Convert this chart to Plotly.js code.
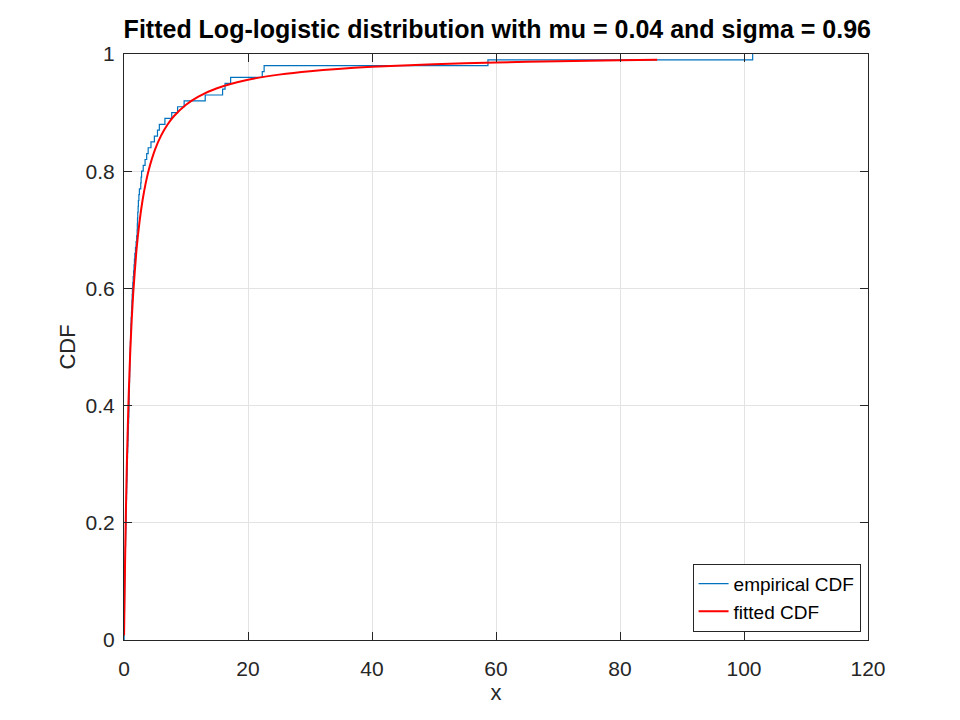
<!DOCTYPE html>
<html>
<head>
<meta charset="utf-8">
<script src="https://cdn.plot.ly/plotly-3.0.1.min.js"></script>
<style>html,body{margin:0;padding:0;background:#fff;}#chart{width:960px;height:720px;}</style>
</head>
<body>
<div id="chart"></div>
<script>
// Sorted sample values (empirical CDF jumps)
const sampleX = [
  0.02, 0.03, 0.05, 0.06, 0.07, 0.08, 0.09, 0.10, 0.11, 0.12,
  0.14, 0.15, 0.17, 0.19, 0.21, 0.23, 0.25, 0.27, 0.29, 0.31,
  0.33, 0.35, 0.37, 0.39, 0.41, 0.43, 0.45, 0.48, 0.50, 0.52,
  0.55, 0.57, 0.60, 0.63, 0.66, 0.69, 0.72, 0.75, 0.78, 0.80,
  0.82, 0.84, 0.86, 0.88, 0.90, 0.92, 0.94, 0.96, 0.98, 1.00,
  1.03, 1.06, 1.09, 1.12, 1.16, 1.20, 1.24, 1.28, 1.32, 1.36,
  1.42, 1.48, 1.55, 1.62, 1.68, 1.75, 1.85, 1.95, 2.05, 2.12,
  2.15, 2.18, 2.22, 2.28, 2.32, 2.40, 2.48, 2.70, 2.76, 2.84,
  3.10, 3.40, 3.66, 3.90, 4.35, 4.90, 5.40, 5.70, 6.60, 7.70,
  8.65, 9.70, 13.1, 15.9, 16.3, 17.2, 22.3, 22.6, 58.7, 101.4
];
// Empirical CDF levels after each jump
const empiricalY = sampleX.map((_, i) => (i + 1) / sampleX.length);

// Fitted CDF points
const fitX = [0.01, 0.02, 0.05, 0.1, 0.2, 0.3, 0.4, 0.5, 0.75, 1, 1.25, 1.5, 2, 2.5, 3, 3.5, 4, 5, 6, 7, 8, 10, 12, 15, 20, 25, 30, 40, 50, 60, 70, 80, 86];
const fitY = [0.0079, 0.0160, 0.0407, 0.0801, 0.152, 0.215, 0.2697, 0.318, 0.4155, 0.4896, 0.5476, 0.594, 0.664, 0.7136, 0.7508, 0.7796, 0.8026, 0.8368, 0.8612, 0.8793, 0.8933, 0.9135, 0.9274, 0.9415, 0.9560, 0.9648, 0.9707, 0.9781, 0.9826, 0.9856, 0.9877, 0.9893, 0.9900];

const xTicks = [0, 20, 40, 60, 80, 100, 120];
const yTicks = [0, 0.2, 0.4, 0.6, 0.8, 1];
const yTickText = ['0', '0.2', '0.4', '0.6', '0.8', '1'];

// step line: start at first sample with 0
const ecdfX = [sampleX[0]].concat(sampleX);
const ecdfY = [0].concat(empiricalY);

const font = 'Liberation Sans, Arial, Helvetica, sans-serif';
const axisCommon = {
  showline: true, linecolor: '#262626', linewidth: 1, mirror: 'ticks',
  ticks: 'inside', ticklen: 8, tickcolor: '#262626', tickwidth: 1,
  showgrid: true, gridcolor: '#e3e3e3', gridwidth: 1,
  zeroline: false, tickfont: {family: font, size: 21, color: '#262626'}
};

Plotly.newPlot('chart', [
  {x: ecdfX, y: ecdfY, type: 'scatter', mode: 'lines', line: {shape: 'hv', color: '#0072BD', width: 1.2}, name: 'empirical CDF'},
  {x: fitX, y: fitY, type: 'scatter', mode: 'lines', line: {shape: 'spline', smoothing: 0.6, color: '#FF0000', width: 2}, name: 'fitted CDF'}
], {
  width: 960, height: 720,
  margin: {l: 124, r: 92, t: 54, b: 80},
  paper_bgcolor: '#fff', plot_bgcolor: '#fff',
  title: {text: '<b>Fitted Log-logistic distribution with mu = 0.04 and sigma = 0.96</b>', x: 0.518, xanchor: 'center', y: 0.96, yanchor: 'middle', font: {family: font, size: 25, color: '#000'}},
  xaxis: Object.assign({}, axisCommon, {range: [0, 120], tickvals: xTicks, ticktext: xTicks.map(String), ticklabelstandoff: 10, title: {text: 'x', font: {family: font, size: 22, color: '#262626'}, standoff: 0}}),
  yaxis: Object.assign({}, axisCommon, {range: [0, 1], tickvals: yTicks, ticktext: yTickText, ticklabelstandoff: 4, title: {text: 'CDF', font: {family: font, size: 22, color: '#262626'}, standoff: 3}}),
  showlegend: true,
  legend: {x: 0.99, y: 0.014, xanchor: 'right', yanchor: 'bottom', bgcolor: '#fff', bordercolor: '#262626', borderwidth: 1, font: {family: font, size: 19, color: '#000'}, tracegroupgap: 0, itemwidth: 30}
}, {displayModeBar: false, staticPlot: true});
</script>
</body>
</html>
